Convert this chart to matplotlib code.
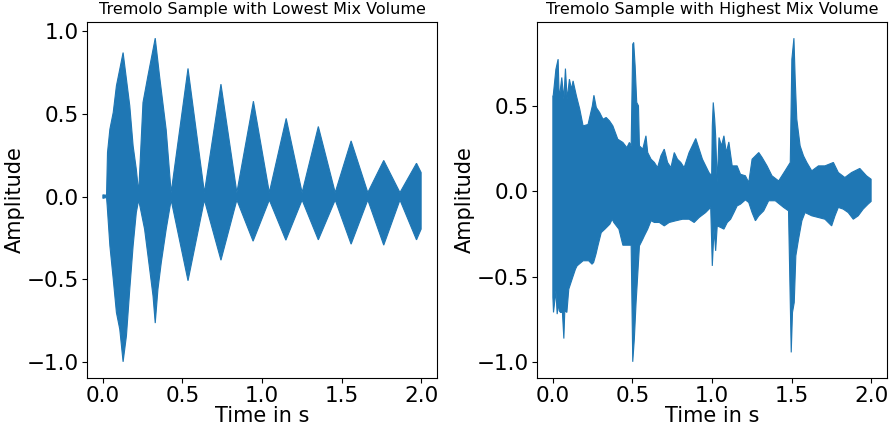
import numpy as np
import matplotlib
matplotlib.use("Agg")
import matplotlib.pyplot as plt
from matplotlib.ticker import MultipleLocator

# envelope of the low-mix tremolo sample (time in s, amplitude)
low_t_hi = [0.0, 0.023, 0.029, 0.044, 0.065, 0.085, 0.106, 0.127, 0.148, 0.169, 0.19, 0.21, 0.225,
            0.252, 0.283, 0.329, 0.356, 0.398, 0.429, 0.535, 0.638, 0.742, 0.842, 0.946, 1.046,
            1.152, 1.252, 1.354, 1.46, 1.56, 1.665, 1.765, 1.867, 1.971, 2.0]
low_hi = [0.011, 0.009, 0.267, 0.408, 0.509, 0.67, 0.77, 0.871, 0.71, 0.549, 0.307, 0.166, 0.025,
          0.569, 0.73, 0.958, 0.73, 0.403, 0.025, 0.775, 0.025, 0.68, 0.025, 0.577, 0.025,
          0.473, 0.025, 0.424, 0.025, 0.337, 0.025, 0.219, 0.025, 0.202, 0.146]
low_t_lo = [0.0, 0.023, 0.027, 0.044, 0.065, 0.085, 0.106, 0.127, 0.148, 0.169, 0.19, 0.21, 0.225,
            0.262, 0.294, 0.315, 0.329, 0.346, 0.367, 0.398, 0.429, 0.535, 0.638, 0.742, 0.842,
            0.944, 1.046, 1.15, 1.252, 1.354, 1.46, 1.56, 1.665, 1.765, 1.867, 1.971, 2.0]
low_lo = [-0.01, -0.005, -0.055, -0.297, -0.498, -0.7, -0.801, -0.998, -0.841, -0.559, -0.297, -0.096, -0.02,
          -0.196, -0.438, -0.599, -0.764, -0.559, -0.398, -0.196, -0.02, -0.508, -0.02, -0.384, -0.02,
          -0.269, -0.02, -0.263, -0.02, -0.261, -0.02, -0.287, -0.02, -0.293, -0.02, -0.261, -0.196]

# envelope of the high-mix tremolo sample
high_t_hi = [0.0, 0.002, 0.019, 0.033, 0.040, 0.056, 0.069, 0.079, 0.090, 0.104, 0.117, 0.127, 0.148,
             0.169, 0.19, 0.221, 0.248, 0.258, 0.273, 0.294, 0.315, 0.335, 0.356, 0.377, 0.408,
             0.44, 0.465, 0.481, 0.492, 0.502, 0.508, 0.517, 0.527, 0.538, 0.544, 0.565, 0.585,
             0.596, 0.617, 0.638, 0.658, 0.679, 0.7, 0.721, 0.742, 0.763, 0.783, 0.804, 0.825,
             0.856, 0.898, 0.94, 0.981, 0.998, 1.002, 1.008, 1.017, 1.023, 1.033, 1.044, 1.06,
             1.075, 1.09, 1.106, 1.127, 1.158, 1.179, 1.21, 1.231, 1.252, 1.294, 1.315, 1.346,
             1.377, 1.419, 1.46, 1.492, 1.502, 1.515, 1.523, 1.533, 1.554, 1.575, 1.596, 1.627,
             1.669, 1.71, 1.763, 1.794, 1.835, 1.877, 1.929, 1.971, 2.0]
high_hi = [0.557, 0.557, 0.713, 0.772, 0.538, 0.665, 0.538, 0.717, 0.538, 0.655, 0.596, 0.645, 0.557,
           0.48, 0.382, 0.39, 0.499, 0.561, 0.489, 0.46, 0.421, 0.431, 0.411, 0.382, 0.304,
           0.285, 0.255, 0.285, 0.265, 0.86, 0.869, 0.733, 0.519, 0.499, 0.265, 0.246, 0.324,
           0.226, 0.187, 0.168, 0.138, 0.207, 0.246, 0.168, 0.138, 0.226, 0.187, 0.168, 0.138,
           0.226, 0.308, 0.187, 0.109, 0.09, 0.382, 0.519, 0.421, 0.324, 0.051, 0.314, 0.265,
           0.324, 0.226, 0.288, 0.148, 0.148, 0.099, 0.09, 0.051, 0.187, 0.226, 0.197, 0.148,
           0.09, 0.06, 0.12, 0.168, 0.772, 0.895, 0.655, 0.421, 0.265, 0.207, 0.168, 0.119,
           0.148, 0.148, 0.168, 0.109, 0.08, 0.109, 0.133, 0.09, 0.07]
high_t_lo = [0.0, 0.004, 0.019, 0.027, 0.035, 0.040, 0.048, 0.060, 0.069, 0.075, 0.088, 0.1, 0.121,
             0.142, 0.152, 0.19, 0.225, 0.246, 0.256, 0.271, 0.283, 0.304, 0.327, 0.358, 0.373,
             0.383, 0.415, 0.44, 0.492, 0.502, 0.512, 0.523, 0.533, 0.544, 0.565, 0.575, 0.596,
             0.617, 0.638, 0.669, 0.7, 0.731, 0.773, 0.815, 0.856, 0.888, 0.919, 0.96, 0.992,
             1.002, 1.013, 1.023, 1.033, 1.054, 1.075, 1.096, 1.117, 1.138, 1.158, 1.179, 1.21,
             1.231, 1.252, 1.273, 1.294, 1.325, 1.356, 1.398, 1.45, 1.481, 1.498, 1.506, 1.517,
             1.527, 1.544, 1.565, 1.585, 1.627, 1.669, 1.71, 1.752, 1.773, 1.794, 1.825, 1.856,
             1.888, 1.919, 1.95, 1.981, 2.0]
high_lo = [-0.62, -0.709, -0.583, -0.719, -0.651, -0.70, -0.709, -0.709, -0.862, -0.70, -0.709, -0.573, -0.514,
           -0.456, -0.437, -0.407, -0.407, -0.427, -0.417, -0.368, -0.32, -0.242, -0.222, -0.193, -0.164,
           -0.183, -0.222, -0.316, -0.316, -0.998, -0.865, -0.651, -0.495, -0.32, -0.281, -0.261, -0.222,
           -0.173, -0.183, -0.183, -0.203, -0.183, -0.173, -0.164, -0.164, -0.183, -0.154, -0.125, -0.095,
           -0.437, -0.222, -0.349, -0.203, -0.212, -0.222, -0.183, -0.164, -0.125, -0.086, -0.076, -0.051,
           -0.066, -0.125, -0.173, -0.144, -0.115, -0.056, -0.056, -0.095, -0.115, -0.943, -0.709, -0.651,
           -0.378, -0.281, -0.173, -0.125, -0.144, -0.154, -0.164, -0.203, -0.144, -0.095, -0.105, -0.125,
           -0.164, -0.144, -0.105, -0.076, -0.06]

BLUE = "#1f77b4"

fig = plt.figure(figsize=(8.93, 4.26), dpi=100)
ax1 = fig.add_axes([0.0974, 0.1127, 0.392, 0.8357])
ax2 = fig.add_axes([0.6013, 0.1127, 0.392, 0.8357])


def draw_env(ax, t_hi, hi, t_lo, lo):
    # outline of the waveform: upper edge forward, lower edge back
    xs = np.concatenate([t_hi, t_lo[::-1]])
    ys = np.concatenate([hi, lo[::-1]])
    ax.fill(xs, ys, color=BLUE, linewidth=0.8)


draw_env(ax1, low_t_hi, low_hi, low_t_lo, low_lo)
draw_env(ax2, high_t_hi, high_hi, high_t_lo, high_lo)

ax1.set_title("Tremolo Sample with Lowest Mix Volume", fontsize=11.5)
ax2.set_title("Tremolo Sample with Highest Mix Volume", fontsize=11.5)
for ax in (ax1, ax2):
    ax.set_xlabel("Time in s", fontsize=15, labelpad=0)
    ax.set_ylabel("Amplitude", fontsize=15, labelpad=1)
    ax.tick_params(labelsize=15.5, pad=2.5)
    ax.set_xticks([0.0, 0.5, 1.0, 1.5, 2.0])
    ax.yaxis.set_major_locator(MultipleLocator(0.5))

plt.savefig("out.png", dpi=100)
